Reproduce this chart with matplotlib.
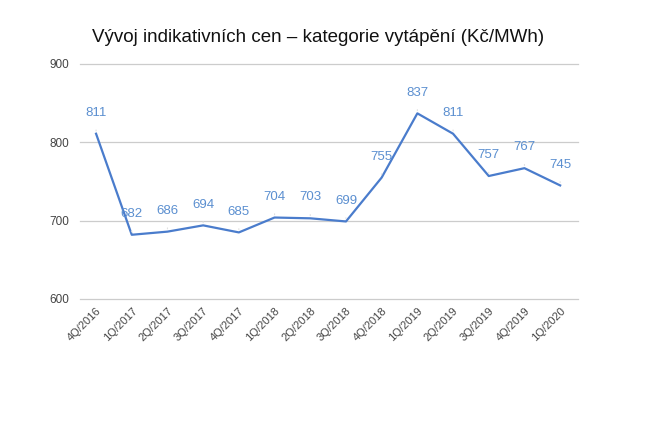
import numpy as np
import matplotlib.pyplot as plt
import matplotlib

quarters = ["4Q/2016", "1Q/2017", "2Q/2017", "3Q/2017", "4Q/2017",
            "1Q/2018", "2Q/2018", "3Q/2018", "4Q/2018", "1Q/2019",
            "2Q/2019", "3Q/2019", "4Q/2019", "1Q/2020"]
prices = [811, 682, 686, 694, 685, 704, 703, 699, 755, 837, 811, 757, 767, 745]
y_ticks = [600, 700, 800, 900]

title = "Vývoj indikativních cen – kategorie vytápění (Kč/MWh)"

#################################################
# IMPLEMENTATION

matplotlib.rcParams['font.family'] = ['Liberation Sans', 'DejaVu Sans']

line_color = '#4a7ccc'
label_color = '#5b8fd0'

fig = plt.figure(figsize=(6.5, 4.34), dpi=100)
ax = fig.add_axes([80 / 650, 1 - 299 / 434, 498 / 650, 235 / 434])

x = np.arange(len(quarters))
ax.plot(x, prices, color=line_color, linewidth=1.6, zorder=3)

for xi, v in zip(x, prices):
	ax.annotate(str(v), xy=(xi, v), xytext=(0, 15), textcoords='offset points',
				ha='center', va='center', fontsize=9.5, color=label_color,
				arrowprops=dict(arrowstyle='-', color='#e0e0e0', lw=0.8,
								shrinkA=6, shrinkB=2))

ax.set_xlim(-0.45, len(quarters) - 1 + 0.5)
ax.set_ylim(600, 900)
ax.set_yticks(y_ticks)
ax.set_xticks(x)
ax.set_xticklabels(quarters, rotation=45, ha='right', rotation_mode='anchor',
				   fontsize=8, color='#444444')
ax.tick_params(axis='y', labelsize=8.5, labelcolor='#444444', length=0, pad=8)
ax.tick_params(axis='x', length=0, pad=5)
ax.grid(axis='y', color='#cccccc', linewidth=0.9)
for gl in ax.get_ygridlines():
	gl.set_clip_on(False)
ax.set_axisbelow(True)
for s in ax.spines.values():
	s.set_visible(False)

fig.text(318 / 650, 1 - 38 / 434, title, ha='center', va='center',
		 fontsize=13.5, color='#111111')

plt.savefig("out.png", dpi=100)
